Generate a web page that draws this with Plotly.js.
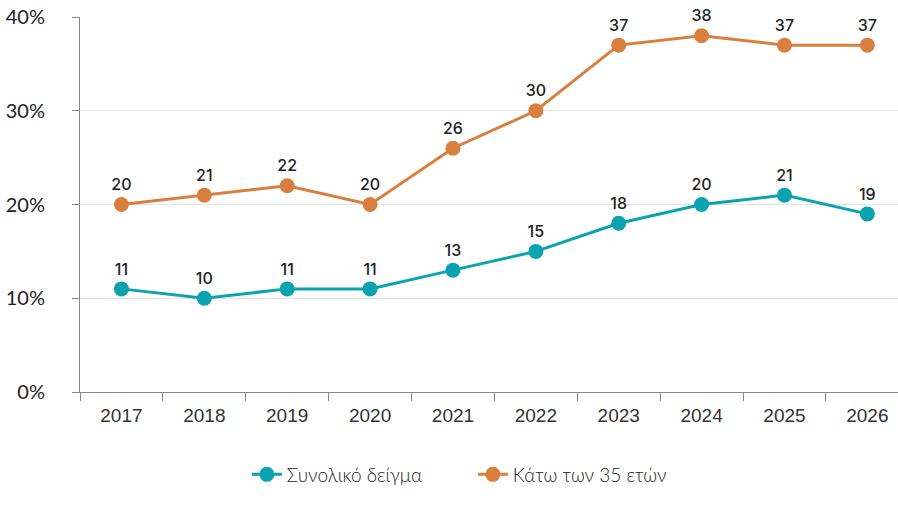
<!DOCTYPE html>
<html>
<head>
<meta charset="utf-8">
<script src="https://cdn.plot.ly/plotly-3.0.1.min.js"></script>
<style>html,body{margin:0;padding:0;background:#fff;}#chart{width:898px;height:508px;}</style>
</head>
<body>
<div id="chart"></div>
<script>
const years = ["2017","2018","2019","2020","2021","2022","2023","2024","2025","2026"];
const totalSample = [11,10,11,11,13,15,18,20,21,19];
const under35 = [20,21,22,20,26,30,37,38,37,37];
const seriesNames = ["Συνολικό δείγμα","Κάτω των 35 ετών"];
const yTicks = [0,10,20,30,40];
const yTickLabels = ["0%","10%","20%","30%","40%"];

const teal = "#0BA3B0";
const orange = "#D97F3D";

function trace(y, name, color){
  return {
    x: years, y: y, name: name, type: "scatter", mode: "lines+markers+text",
    line: {color: color, width: 3},
    marker: {color: color, size: 15},
    text: y.map(String), textposition: "top center",
    textfont: {family: "Inter, sans-serif", size: 16, color: "#222", weight: 500},
    cliponaxis: false, hoverinfo: "skip"
  };
}

const data = [trace(totalSample, seriesNames[0], teal), trace(under35, seriesNames[1], orange)];

const layout = {
  width: 898, height: 508,
  margin: {l: 80, r: 0, t: 17, b: 116},
  paper_bgcolor: "#fff", plot_bgcolor: "#fff",
  showlegend: true,
  legend: {orientation: "h", x: 0.204, xanchor: "left", y: -0.22, yanchor: "middle",
    font: {family: "Lato, sans-serif", size: 19, color: "#222", weight: 300},
    itemwidth: 30, entrywidth: 181, entrywidthmode: "pixels", tracegroupgap: 0},
  xaxis: {
    type: "category", range: [-0.5, 9.37],
    tickson: "boundaries", ticks: "outside", ticklen: 8, tickcolor: "#888", tickwidth: 1,
    showline: true, linecolor: "#888", linewidth: 1, showgrid: false,
    ticklabelstandoff: 6,
    tickfont: {family: "Liberation Sans, Arial, sans-serif", size: 19, color: "#333"},
    fixedrange: true
  },
  yaxis: {
    range: [0, 40], tickvals: yTicks, ticktext: yTickLabels,
    ticks: "outside", ticklen: 7, tickcolor: "#888",
    showline: true, linecolor: "#888", linewidth: 1,
    showgrid: true, gridcolor: "#E3E3E3", gridwidth: 1, zeroline: false,
    ticklabelstandoff: 23,
    tickfont: {family: "Lato, sans-serif", size: 20, color: "#222"},
    fixedrange: true
  }
};

Plotly.newPlot("chart", data, layout, {displayModeBar: false, staticPlot: true});
</script>
</body>
</html>
